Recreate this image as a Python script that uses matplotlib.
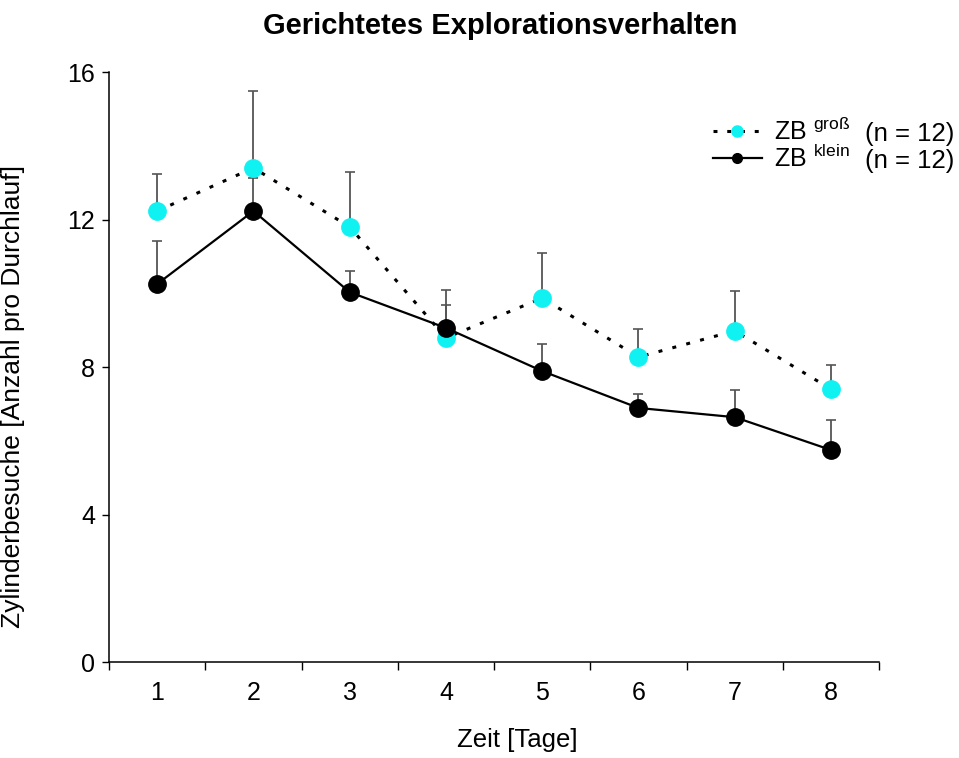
import numpy as np
import matplotlib
matplotlib.use('Agg')
from matplotlib import pyplot as plt

plt.rcParams['font.family'] = ['Liberation Sans', 'DejaVu Sans']
plt.rcParams['mathtext.fontset'] = 'custom'
plt.rcParams['mathtext.rm'] = 'Liberation Sans'

days = [1, 2, 3, 4, 5, 6, 7, 8]
gross_mean = [12.23, 13.40, 11.80, 8.79, 9.87, 8.27, 8.98, 7.40]
gross_err = [1.00, 2.08, 1.49, 1.30, 1.22, 0.76, 1.08, 0.65]
klein_mean = [10.25, 12.23, 10.03, 9.06, 7.89, 6.89, 6.64, 5.75]
klein_err = [1.17, 0.90, 0.57, 0.62, 0.73, 0.38, 0.74, 0.81]
y_ticks = [0, 4, 8, 12, 16]

cyan = '#10f2f2'

fig = plt.figure(figsize=(9.59, 7.58), dpi=100)
ax = fig.add_axes([0.1137, 0.1266, 0.803, 0.7784])

zeros = np.zeros(len(days))
# Fehlerbalken (nur nach oben)
ax.errorbar(days, gross_mean, yerr=[zeros, gross_err], fmt='none',
            ecolor='#555555', elinewidth=1.3, capsize=3.5, capthick=1.2, zorder=1)
ax.errorbar(days, klein_mean, yerr=[zeros, klein_err], fmt='none',
            ecolor='#555555', elinewidth=1.3, capsize=3.5, capthick=1.2, zorder=1)

# Linien und Punkte
ax.plot(days, gross_mean, color='black', lw=2.2, ls=(0, (1.3, 3.4)), zorder=2)
ax.plot(days, gross_mean, ls='none', marker='o', ms=12.5,
        mfc=cyan, mec=cyan, zorder=3)
ax.plot(days, klein_mean, color='black', lw=1.6, zorder=4)
ax.plot(days, klein_mean, ls='none', marker='o', ms=12.5,
        mfc='black', mec='black', zorder=5)

# Legende
h1, = ax.plot([], [], color='black', lw=2.2, ls=(0, (1.3, 3.2)), marker='o',
              ms=8, mfc=cyan, mec=cyan)
h2, = ax.plot([], [], color='black', lw=1.6, marker='o', ms=7,
              mfc='black', mec='black')
ax.legend([h1, h2], [r'ZB $^{\mathrm{groß}}$', r'ZB $^{\mathrm{klein}}$'],
          loc='upper left', bbox_to_anchor=(0.784, 0.922), frameon=False,
          fontsize=18, handlelength=1.95, handletextpad=0.5,
          labelspacing=0.0, borderpad=0, borderaxespad=0)
ax.text(0.982, 0.895, '(n = 12)', transform=ax.transAxes, fontsize=18.5,
        va='center', ha='left', clip_on=False)
ax.text(0.982, 0.850, '(n = 12)', transform=ax.transAxes, fontsize=18.5,
        va='center', ha='left', clip_on=False)

# Achsen
ax.set_xlim(0.5, 8.5)
ax.set_ylim(0, 16)
ax.set_yticks(y_ticks)
ax.set_xticks(days)
ax.set_xticks(np.arange(0.5, 9, 1), minor=True)
ax.tick_params(axis='x', which='major', length=0, pad=14, labelsize=18)
ax.tick_params(axis='x', which='minor', length=6, width=1, direction='out')
ax.tick_params(axis='y', which='major', length=5, width=1, pad=5, labelsize=18)
for s in ['top', 'right']:
    ax.spines[s].set_visible(False)
for s in ['left', 'bottom']:
    ax.spines[s].set_linewidth(1.1)

ax.set_xlabel('Zeit [Tage]', fontsize=18.5)
ax.set_ylabel('Zylinderbesuche [Anzahl pro Durchlauf]', fontsize=19)
ax.xaxis.set_label_coords(0.53, -0.112)
ax.yaxis.set_label_coords(-0.109, 0.45)

fig.text(500 / 959, 1 - 26 / 758, 'Gerichtetes Explorationsverhalten',
         fontsize=21, fontweight='bold', ha='center', va='center')

fig.savefig('out.png', dpi=100)
